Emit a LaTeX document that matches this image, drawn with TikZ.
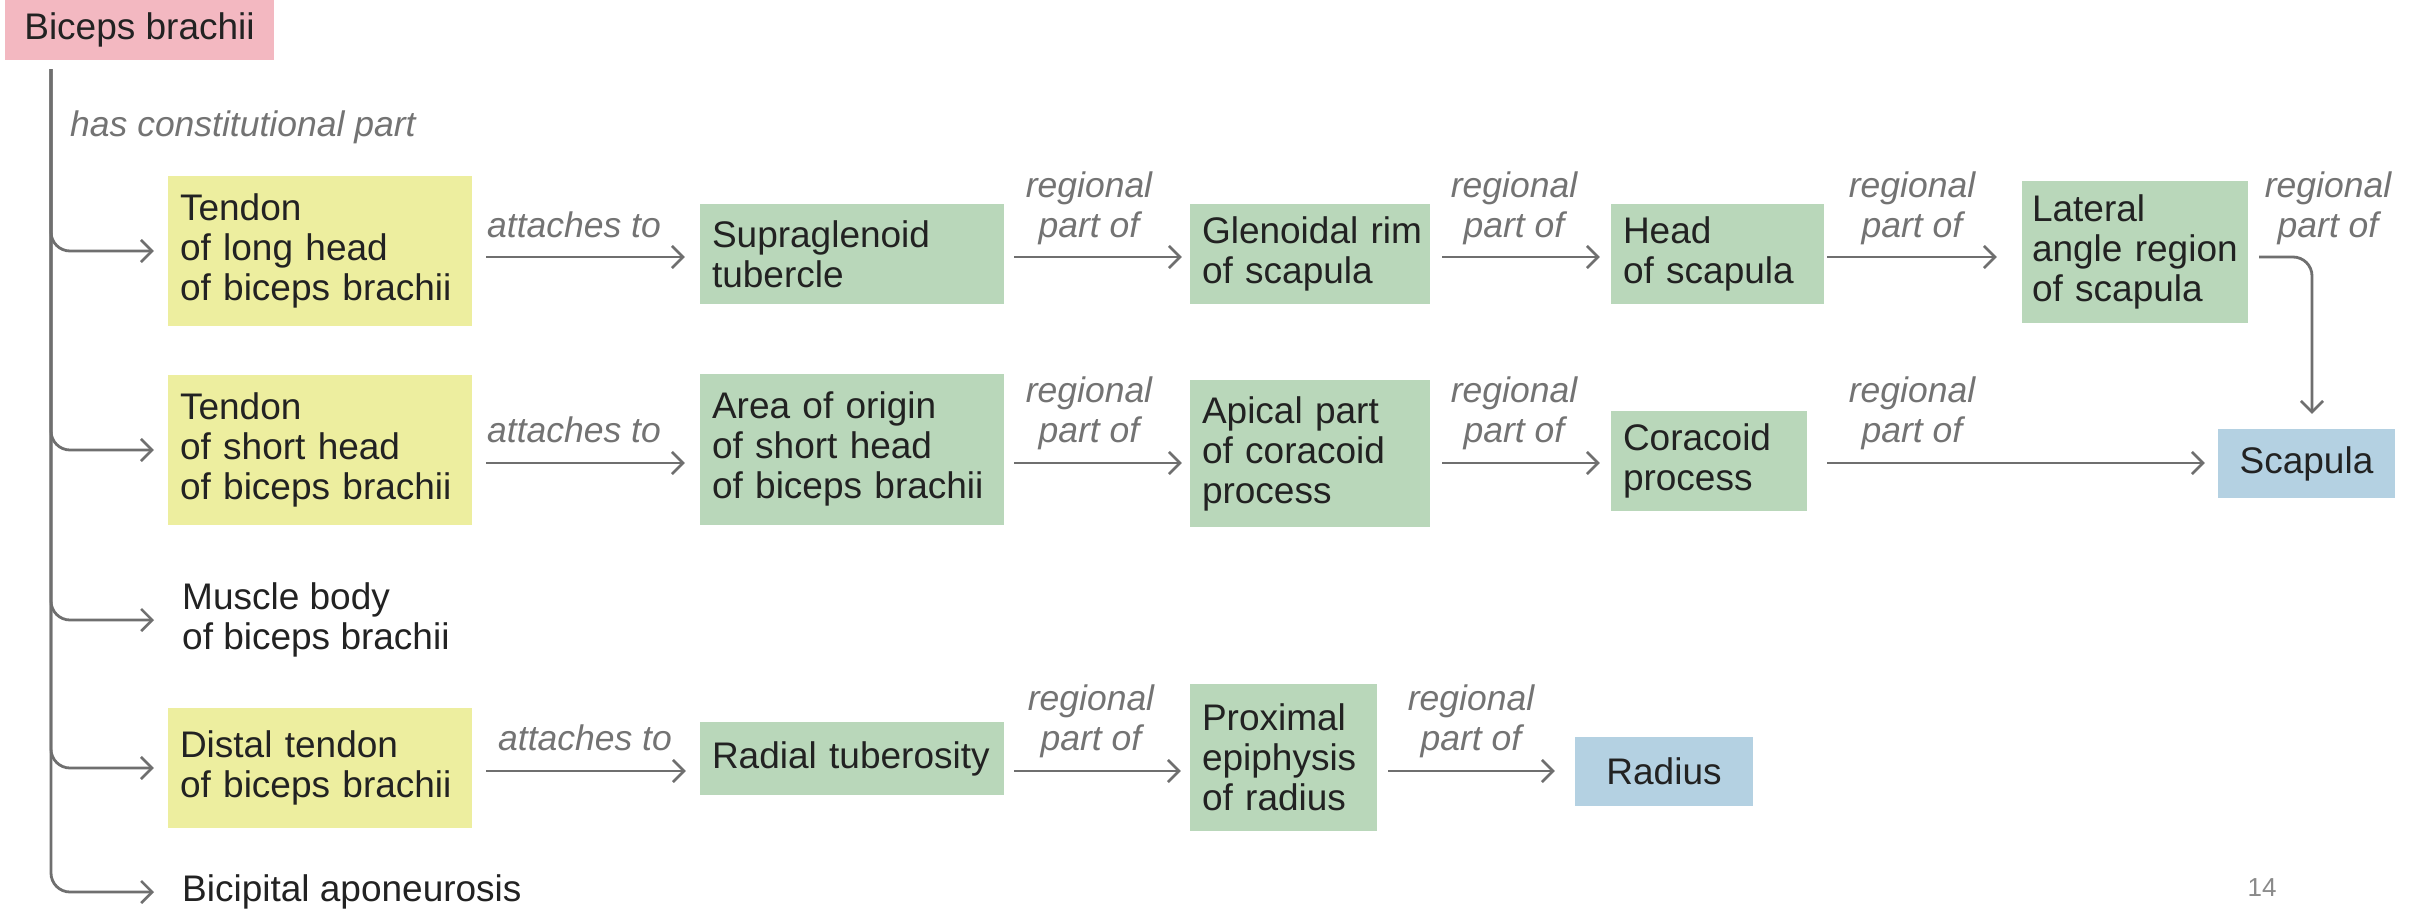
\documentclass[tikz,border=0pt]{standalone}
\usepackage{fontspec}
\setmainfont{Liberation Sans}
\usetikzlibrary{arrows.meta}
\definecolor{pinkbox}{HTML}{F3B8C1}
\definecolor{yellowbox}{HTML}{EDEE9F}
\definecolor{greenbox}{HTML}{B9D7BA}
\definecolor{bluebox}{HTML}{B4D1E2}
\definecolor{conngray}{HTML}{6F6F6F}
\definecolor{lblgray}{HTML}{737373}
\definecolor{txtdark}{HTML}{222222}
\definecolor{pagegray}{HTML}{8A8A8A}
\begin{document}
\begin{tikzpicture}[x=1pt,y=-1pt,
  base/.style={font=\fontsize{37}{40}\selectfont, text=txtdark, execute at begin node={\hyphenpenalty=10000\exhyphenpenalty=10000}},
  box/.style={base, inner xsep=12pt, inner ysep=0pt, align=left, anchor=center},
  ybox/.style={box, fill=yellowbox},
  gbox/.style={box, fill=greenbox},
  bbox/.style={box, fill=bluebox, align=center},
  plain/.style={base, inner sep=0pt, align=left, anchor=west},
  lbl/.style={font=\fontsize{35.5}{40}\selectfont\itshape, text=lblgray, inner sep=0pt, align=center, anchor=south},
  conn/.style={draw=conngray, line width=2.8pt, -{Straight Barb[length=11pt,width=22pt,line width=2.6pt]}},
  ends/.style 2 args={shorten <=#1pt, shorten >=#2pt}]
\useasboundingbox (0,0) rectangle (2420,911);
\fill[white] (0,0) rectangle (2420,911);

% row reference lines
\coordinate (r1) at (0,257);
\coordinate (r2) at (0,463);
\coordinate (r4) at (0,771);
\coordinate (trunk) at (51,69);

% nodes
\node[box, fill=pinkbox, align=center, minimum width=269pt, minimum height=60pt] (bic) at (139.5,30) {Biceps~brachii};

\node[ybox, text width=280pt, minimum height=150pt] (tlong) at (320,251) {Tendon\\of~long~head\\of~biceps~brachii};
\node[gbox, text width=280pt, minimum height=100pt] (supra) at (852,254) {Supraglenoid\\tubercle};
\node[gbox, text width=216pt, minimum height=100pt] (glen) at (1310,254) {Glenoidal~rim\\of~scapula};
\node[gbox, text width=189pt, minimum height=100pt] (head) at (1717.5,254) {Head\\of~scapula};
\node[gbox, text width=206pt, minimum height=142pt, inner xsep=10pt] (lat) at (2135,252) {Lateral\\\mbox{angle region}\\of~scapula};

\node[ybox, text width=280pt, minimum height=150pt] (tshort) at (320,450) {Tendon\\of~short~head\\of~biceps~brachii};
\node[gbox, text width=280pt, minimum height=151pt] (area) at (852,449) {Area~of~origin\\of~short~head\\of~biceps~brachii};
\node[gbox, text width=216pt, minimum height=147pt] (apical) at (1310,453.5) {Apical~part\\of~coracoid\\process};
\node[gbox, text width=172pt, minimum height=100pt] (cora) at (1709,461) {Coracoid\\process};
\node[bbox, minimum width=177pt, minimum height=69pt] (scap) at (2306.5,463.5) {Scapula};

\node[plain] (muscle) at (182,620) {Muscle~body\\of~biceps~brachii};

\node[ybox, text width=280pt, minimum height=120pt] (distal) at (320,768) {Distal~tendon\\of~biceps~brachii};
\node[gbox, text width=280pt, minimum height=73pt] (radt) at (852,758.5) {Radial~tuberosity};
\node[gbox, text width=163pt, minimum height=147pt] (prox) at (1283.5,757.5) {Proximal\\epiphysis\\of~radius};
\node[bbox, minimum width=178pt, minimum height=69pt] (radius) at (1664,771.5) {Radius};

\node[plain] (bicap) at (182,892) {Bicipital~aponeurosis};

\node[font=\fontsize{26}{30}\selectfont, text=pagegray, inner sep=0pt] (pg) at (2262,888) {14};

% labels
\node[lbl, anchor=south west] (lhas) at (70,149) {has constitutional part\strut};
\node[lbl] (la1) at (574,250) {attaches to\strut};
\node[lbl] (lr1a) at (1089,250) {regional\\part of\strut};
\node[lbl] (lr1b) at (1514,250) {regional\\part of\strut};
\node[lbl] (lr1c) at (1912,250) {regional\\part of\strut};
\node[lbl] (lr1d) at (2328,250) {regional\\part of\strut};

\node[lbl] (la2) at (574,455) {attaches to\strut};
\node[lbl] (lr2a) at (1089,455) {regional\\part of\strut};
\node[lbl] (lr2b) at (1514,455) {regional\\part of\strut};
\node[lbl] (lr2c) at (1912,455) {regional\\part of\strut};

\node[lbl] (la4) at (585,763) {attaches to\strut};
\node[lbl] (lr4a) at (1091,763) {regional\\part of\strut};
\node[lbl] (lr4b) at (1471,763) {regional\\part of\strut};

% trunk and branches
\draw[conn, rounded corners=19pt, shorten >=14pt] (trunk) |- (tlong.west);
\draw[conn, rounded corners=19pt, shorten >=14pt] (trunk) |- (tshort.west);
\draw[conn, rounded corners=19pt, shorten >=28pt] (trunk) |- (muscle.west);
\draw[conn, rounded corners=19pt, shorten >=14pt] (trunk) |- (distal.west);
\draw[conn, rounded corners=19pt, shorten >=28pt] (trunk) |- (bicap.west);

% row 1
\draw[conn, ends={14}{15}] (tlong.east |- r1) -- (supra.west |- r1);
\draw[conn, ends={10}{8}] (supra.east |- r1) -- (glen.west |- r1);
\draw[conn, ends={12}{11}] (glen.east |- r1) -- (head.west |- r1);
\draw[conn, ends={3}{25}] (head.east |- r1) -- (lat.west |- r1);
\draw[conn, rounded corners=19pt, ends={11}{15}] (lat.east |- r1) -| ([xshift=5.5pt]scap.north);

% row 2
\draw[conn, ends={14}{15}] (tshort.east |- r2) -- (area.west |- r2);
\draw[conn, ends={10}{8}] (area.east |- r2) -- (apical.west |- r2);
\draw[conn, ends={12}{11}] (apical.east |- r2) -- (cora.west |- r2);
\draw[conn, ends={20}{13}] (cora.east |- r2) -- (scap.west |- r2);

% row 4
\draw[conn, ends={14}{14}] (distal.east |- r4) -- (radt.west |- r4);
\draw[conn, ends={10}{9}] (radt.east |- r4) -- (prox.west |- r4);
\draw[conn, ends={11}{20}] (prox.east |- r4) -- (radius.west |- r4);
\end{tikzpicture}
\end{document}
